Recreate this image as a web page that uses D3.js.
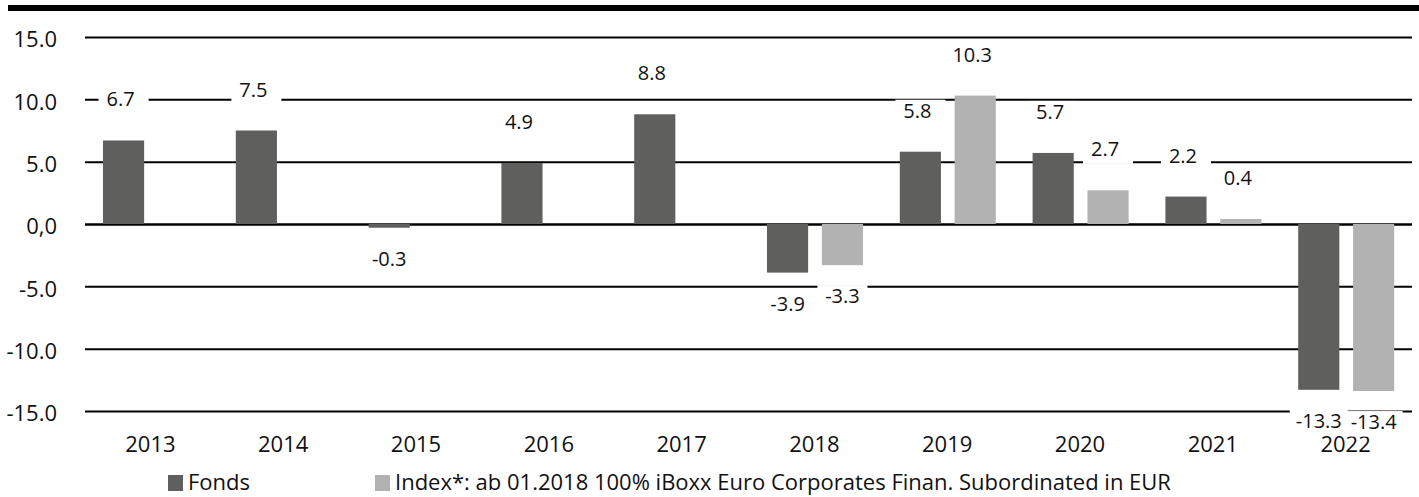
<!DOCTYPE html>
<html>
<head>
<meta charset="utf-8">
<script src="https://cdn.jsdelivr.net/npm/d3@7"></script>
<style>
  body { margin: 0; background: #fff; }
  svg { display: block; font-family: "Open Sans", "Noto Sans", sans-serif; }
</style>
</head>
<body>
<div id="chart"></div>
<script>
// chart values
const years = ["2013", "2014", "2015", "2016", "2017", "2018", "2019", "2020", "2021", "2022"];
const fonds = [6.7, 7.5, -0.3, 4.9, 8.8, -3.9, 5.8, 5.7, 2.2, -13.3];
const index = [null, null, null, null, null, -3.3, 10.3, 2.7, 0.4, -13.4];
const seriesNames = ["Fonds", "Index"];
const legendLabels = ["Fonds", "Index*: ab 01.2018 100% iBoxx Euro Corporates Finan. Subordinated in EUR"];
const yTicks = [15, 10, 5, 0, -5, -10, -15];
const yTickLabels = ["15.0", "10.0", "5.0", "0,0", "-5.0", "-10.0", "-15.0"];

const colors = { Fonds: "#5f5f5e", Index: "#b2b2b2" };

const W = 1419, H = 497;
const left = 85, right = 1412;

const svg = d3.select("#chart").append("svg")
  .attr("width", W)
  .attr("height", H);

// thick rule at the top
svg.append("rect")
  .attr("x", 8).attr("y", 5)
  .attr("width", W - 8).attr("height", 6)
  .attr("fill", "#000");

// scales
const y = d3.scaleLinear().domain([-15, 15]).range([411, 37]);
const x0 = d3.scaleBand().domain(years).range([84, right]).padding(0);
const x1 = d3.scaleBand().domain(seriesNames).range([19, 115]).paddingInner(0.25);

// flatten rows
const rows = [];
years.forEach((yr, i) => {
  rows.push({ year: yr, key: "Fonds", value: fonds[i] });
  if (index[i] !== null) rows.push({ year: yr, key: "Index", value: index[i] });
});

// y axis + gridlines
const yAxis = svg.append("g")
  .attr("transform", `translate(${left},0)`)
  .call(d3.axisLeft(y)
    .tickValues(yTicks)
    .tickSizeInner(-(right - left))
    .tickSizeOuter(0)
    .tickPadding(28)
    .tickFormat((d, i) => yTickLabels[i]));
yAxis.select(".domain").remove();
yAxis.selectAll(".tick line")
  .attr("stroke", "#000")
  .attr("stroke-width", d => d === 0 ? 2.5 : 2);
yAxis.selectAll(".tick text")
  .attr("dy", "0.45em")
  .attr("fill", "#111")
  .style("font-size", "22px")
  .style("font-family", "'Open Sans', 'Noto Sans', sans-serif");

// x axis labels
const xAxis = svg.append("g")
  .attr("transform", `translate(0,${y(-15)})`)
  .call(d3.axisBottom(x0).tickSize(0).tickPadding(25));
xAxis.select(".domain").remove();
xAxis.selectAll(".tick text")
  .attr("fill", "#111")
  .style("font-size", "22px")
  .style("font-family", "'Open Sans', 'Noto Sans', sans-serif");

const barX = d => x0(d.year) + x1(d.key);
const barC = d => barX(d) + x1.bandwidth() / 2;
const labelY = d => d.value >= 0 ? y(d.value) - 41 : y(d.value) + 31;

// white boxes behind the value labels
const labels = svg.append("g");
const boxes = labels.selectAll("rect")
  .data(rows)
  .join("rect")
  .attr("fill", "#fff");

// bars
svg.append("g")
  .selectAll("rect")
  .data(rows)
  .join("rect")
  .attr("x", barX)
  .attr("width", x1.bandwidth())
  .attr("y", d => y(Math.max(0, d.value)))
  .attr("height", d => Math.abs(y(d.value) - y(0)))
  .attr("fill", d => colors[d.key]);

// value labels
const texts = svg.append("g")
  .selectAll("text")
  .data(rows)
  .join("text")
  .attr("x", d => d.value >= 0 ? barC(d) - 3 : barC(d))
  .attr("y", d => labelY(d) + 7)
  .attr("text-anchor", "middle")
  .attr("fill", "#111")
  .style("font-size", "20px")
  .text(d => d.value.toFixed(1));

texts.each(function (d) {
  d.tw = this.getComputedTextLength();
});
boxes
  .attr("x", d => barC(d) - Math.max(50, d.tw + 12) / 2)
  .attr("width", d => Math.max(50, d.tw + 12))
  .attr("y", d => labelY(d) - 11)
  .attr("height", 25.5);

// legend
const legendX = [168, 375];
const legend = svg.append("g");
seriesNames.forEach((k, i) => {
  legend.append("rect")
    .attr("x", legendX[i]).attr("y", 475)
    .attr("width", 15).attr("height", 16)
    .attr("fill", colors[k]);
  legend.append("text")
    .attr("x", legendX[i] + 20).attr("y", 490)
    .attr("fill", "#111")
    .style("font-size", "22px")
    .text(legendLabels[i]);
});
</script>
</body>
</html>
